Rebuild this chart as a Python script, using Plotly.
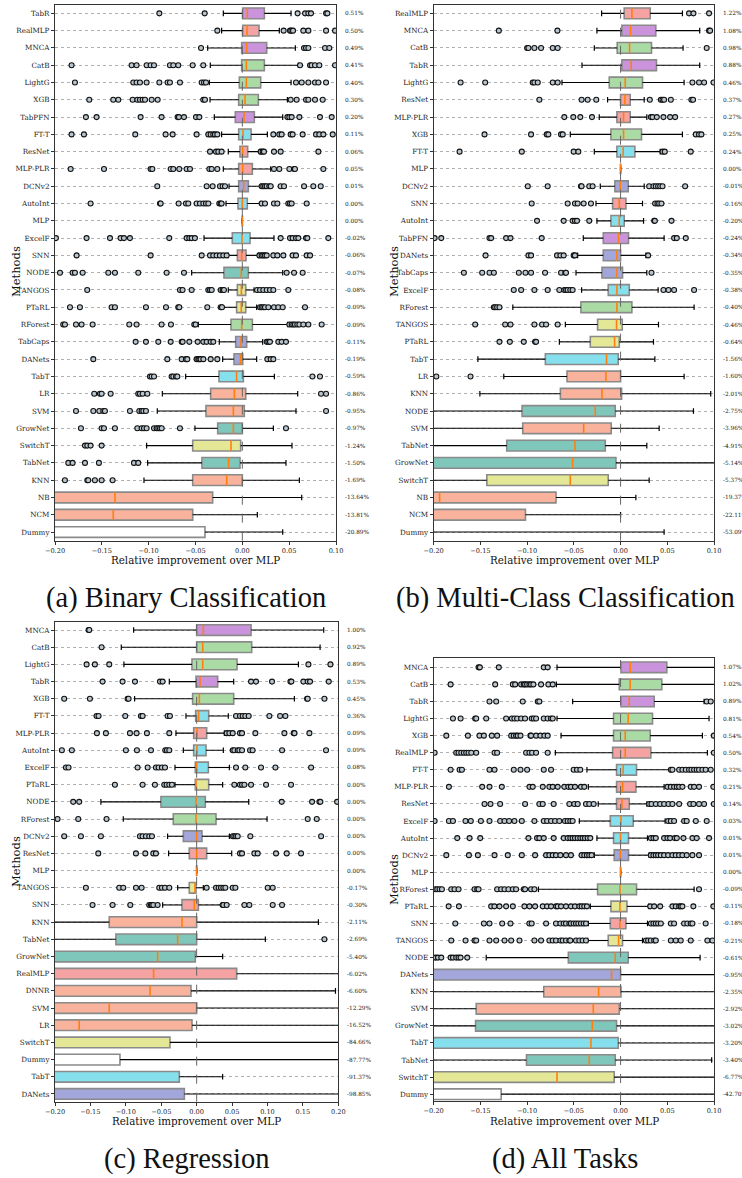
import plotly.graph_objects as go

# ---------------- Panel (a) Binary Classification ----------------
a_methods = ["TabR", "RealMLP", "MNCA", "CatB", "LightG", "XGB", "TabPFN", "FT-T", "ResNet", "MLP-PLR",
             "DCNv2", "AutoInt", "MLP", "ExcelF", "SNN", "NODE", "TANGOS", "PTaRL", "RForest", "TabCaps",
             "DANets", "TabT", "LR", "SVM", "GrowNet", "SwitchT", "TabNet", "KNN", "NB", "NCM", "Dummy"]
a_q1 = [0.0004, 0.0004, -0.0007, -0.0007, -0.0032, -0.0039, -0.0075, -0.0039, -0.0025, -0.0039, -0.0039,
        -0.0046, 0.0, -0.0107, -0.0053, -0.0196, -0.0053, -0.0061, -0.0121, -0.0071, -0.0089, -0.0249,
        -0.0338, -0.0388, -0.0263, -0.0530, -0.0431, -0.0530, -0.25, -0.30, -0.50]
a_med = [0.0053, 0.0050, 0.0046, 0.0043, 0.0043, 0.0028, 0.0018, 0.0007, 0.0004, 0.0004, 0.0014, 0.0, 0.0,
         -0.0004, -0.0007, -0.0011, -0.0010, -0.0011, -0.0007, -0.0014, -0.0021, -0.0061, -0.0085, -0.0096,
         -0.0096, -0.0121, -0.0146, -0.0167, -0.1360, -0.1378, -0.30]
a_q3 = [0.0235, 0.0178, 0.0260, 0.0235, 0.0196, 0.0171, 0.0128, 0.0093, 0.0057, 0.0107, 0.0064, 0.0053, 0.0,
        0.0082, 0.0039, 0.0064, 0.0036, 0.0036, 0.0107, 0.0046, 0.0004, 0.0011, 0.0036, 0.0021, 0.0,
        -0.0018, -0.0025, 0.0, -0.0317, -0.0530, -0.0399]
a_lo = [-0.0203, -0.0221, -0.0370, -0.0342, -0.0352, -0.0345, -0.0299, -0.0221, -0.0150, -0.0203, -0.0142,
        -0.0174, 0.0, -0.0409, -0.0150, -0.0541, -0.0150, -0.0210, -0.0470, -0.0246, -0.0210, -0.0605,
        -0.0854, -0.0908, -0.0506, -0.1022, -0.1011, -0.1050, -0.40, -0.50, -1.0]
a_hi = [0.0520, 0.0395, 0.0566, 0.0598, 0.0520, 0.0481, 0.0431, 0.0267, 0.0189, 0.0303, 0.0196, 0.0196, 0.0,
        0.0338, 0.0171, 0.0431, 0.0125, 0.0153, 0.0484, 0.0217, 0.0153, 0.0342, 0.0591, 0.0573, 0.0331,
        0.0530, 0.0466, 0.0609, 0.0634, 0.0160, 0.0431]
a_pct = ["0.51%", "0.50%", "0.49%", "0.41%", "0.40%", "0.30%", "0.20%", "0.11%", "0.06%", "0.05%", "0.01%",
         "0.00%", "0.00%", "-0.02%", "-0.06%", "-0.07%", "-0.08%", "-0.09%", "-0.09%", "-0.11%", "-0.19%",
         "-0.59%", "-0.86%", "-0.95%", "-0.97%", "-1.24%", "-1.50%", "-1.69%", "-13.64%", "-13.81%", "-20.89%"]
a_out = {
    "TabR": [-0.0886, -0.0402, 0.0590, 0.0670, 0.0705, 0.0733, 0.0894, 0.0908],
    "RealMLP": [-0.0267, 0.0441, 0.0509, 0.0523, 0.0541, 0.0651, 0.0705, 0.0894, 0.0990],
    "MNCA": [-0.0441, 0.0659, 0.0680, 0.0705, 0.0883, 0.0929],
    "CatB": [-0.1823, -0.1182, -0.1129, -0.1022, -0.0979, -0.0943, -0.0773, -0.0737, -0.0684, -0.0530, -0.0417,
             0.0616, 0.0723, 0.0740, 0.0776, 0.0822, 0.0990],
    "LightG": [-0.1787, -0.1164, -0.1129, -0.1093, -0.1022, -0.0886, -0.0798, -0.0773, -0.0666, -0.0434, -0.0409,
               -0.0388, 0.0573, 0.0634, 0.0705, 0.0776, 0.0812, 0.0894],
    "XGB": [-0.1634, -0.1378, -0.1324, -0.1171, -0.1121, -0.1093, -0.1064, -0.1039, -0.0968, -0.0904, -0.0417,
            -0.0399, 0.0516, 0.0580, 0.0680, 0.0705, 0.0776, 0.0858],
    "TabPFN": [-0.1670, -0.1556, -0.1086, -0.0862, -0.0691, -0.0677, -0.0623, -0.0495, -0.0459, 0.0481, 0.0502,
               0.0527, 0.0609, 0.0829, 0.0954],
    "FT-T": [-0.1823, -0.1691, -0.1143, -0.0819, -0.0744, -0.0488, -0.0363, -0.0338, -0.0310, -0.0292, -0.0267,
             0.0331, 0.0395, 0.0420, 0.0516, 0.0537, 0.0644, 0.0787, 0.0822, 0.0865, 0.0965],
    "ResNet": [-0.0345, -0.0281, -0.0256, -0.0221, 0.0196, 0.0217, 0.0231, 0.0338, 0.0409, 0.0812],
    "MLP-PLR": [-0.1833, -0.1477, -0.0979, -0.0961, -0.0765, -0.0737, -0.0673, -0.0595, -0.0559, -0.0352, -0.0327,
                -0.0267, 0.0338, 0.0395, 0.0502, 0.0552, 0.0562, 0.0865],
    "DCNv2": [-0.0908, -0.0381, -0.0317, -0.0239, -0.0210, -0.0185, 0.0206, 0.0224, 0.0242, 0.0260, 0.0288,
              0.0303, 0.0409, 0.0445, 0.0659, 0.0758, 0.0837],
    "AutoInt": [-0.1620, -0.0879, -0.0872, -0.0680, -0.0602, -0.0577, -0.0488, -0.0452, -0.0416, -0.0388, -0.0363,
                -0.0246, -0.0231, -0.0221, 0.0206, 0.0242, 0.0338, 0.0374, 0.0491, 0.0509, 0.0527, 0.0687],
    "ExcelF": [-0.1990, -0.1663, -0.1413, -0.1300, -0.1264, -0.1200, -0.0780, -0.0595, -0.0566, -0.0541, -0.0506,
               0.0409, 0.0509, 0.0537, 0.0573, 0.0598, 0.0680, 0.0694, 0.0918],
    "SNN": [-0.1769, -0.0979, -0.0434, -0.0345, -0.0310, -0.0274, -0.0239, -0.0203, -0.0167, 0.0182, 0.0206,
            0.0224, 0.0242, 0.0260, 0.0331, 0.0374, 0.0438, 0.0537, 0.0573, 0.0687, 0.0723],
    "NODE": [-0.1947, -0.1812, -0.1787, -0.1705, -0.1431, -0.1360, -0.1111, -0.0808, -0.0623, 0.0473, 0.0552,
             0.0644],
    "TANGOS": [-0.1656, -0.0666, -0.0638, -0.0541, -0.0363, -0.0345, -0.0327, -0.0231, -0.0210, -0.0196, 0.0157,
               0.0189, 0.0224, 0.0260, 0.0295, 0.0331, 0.0491],
    "PTaRL": [-0.1840, -0.1734, -0.1396, -0.1360, -0.1029, -0.0815, -0.0684, -0.0673, -0.0374, -0.0231, -0.0217,
              0.0189, 0.0206, 0.0224, 0.0242, 0.0278, 0.0338, 0.0384, 0.0431, 0.0669],
    "RForest": [-0.1912, -0.1894, -0.1776, -0.1716, -0.1598, -0.1207, -0.1129, -0.0862, -0.0762, -0.0513, -0.0499,
                0.0502, 0.0527, 0.0545, 0.0562, 0.0587, 0.0609, 0.0651, 0.0705, 0.0847],
    "TabCaps": [-0.1139, -0.1029, -0.0897, -0.0765, -0.0648, -0.0637, -0.0566, -0.0477, -0.0416, -0.0381, -0.0338,
                -0.0310, 0.0260, 0.0278, 0.0295, 0.0384, 0.0420, 0.0466],
    "DANets": [-0.1591, -0.0801, -0.0648, -0.0602, -0.0588, -0.0488, -0.0470, -0.0459, -0.0445, -0.0416, -0.0338,
               -0.0267, 0.0267, 0.0303, 0.0331],
    "TabT": [-0.0986, -0.0968, -0.0943, -0.0755, -0.0737, -0.0708, -0.0694, 0.0748, 0.0829],
    "LR": [-0.1581, -0.1520, -0.1502, -0.1406, -0.1111, -0.1093, -0.1064, -0.1014, 0.0840, 0.0894],
    "SVM": [-0.1776, -0.1591, -0.1527, -0.1484, -0.1467, -0.1200, -0.1100, -0.1075, -0.1057, -0.1029, 0.0894],
    "GrowNet": [-0.1723, -0.1502, -0.1477, -0.1360, -0.1121, -0.1075, -0.1050, -0.1022, -0.0943, -0.0915, -0.0897,
                -0.0879, -0.0861, -0.0666, 0.0466],
    "SwitchT": [-0.1680, -0.1655, -0.1620, -0.1502],
    "TabNet": [-0.1858, -0.1812, -0.1680, -0.1531, -0.1157, -0.1111],
    "KNN": [-0.1894, -0.1655, -0.1645, -0.1574, -0.1502, -0.1385],
}

# ---------------- Panel (b) Multi-Class Classification ----------------
b_methods = ["RealMLP", "MNCA", "CatB", "TabR", "LightG", "ResNet", "MLP-PLR", "XGB", "FT-T", "MLP", "DCNv2",
             "SNN", "AutoInt", "TabPFN", "DANets", "TabCaps", "ExcelF", "RForest", "TANGOS", "PTaRL", "TabT",
             "LR", "KNN", "NODE", "SVM", "TabNet", "GrowNet", "SwitchT", "NB", "NCM", "Dummy"]
b_q1 = [0.0039, 0.0014, -0.0036, 0.0014, -0.0121, 0.0, -0.0039, -0.0103, -0.0039, 0.0, -0.0061, -0.0085,
        -0.0103, -0.0185, -0.0185, -0.0199, -0.0132, -0.0424, -0.0246, -0.0324, -0.0805, -0.0573, -0.0644,
        -0.1054, -0.1047, -0.1218, -0.25, -0.1431, -0.30, -0.40, -0.60]
b_med = [0.0121, 0.0107, 0.0096, 0.0114, 0.0050, 0.0046, 0.0032, 0.0032, 0.0028, 0.0, -0.0004, -0.0014,
         -0.0014, -0.0021, -0.0039, -0.0039, -0.0039, -0.0039, -0.0043, -0.0064, -0.0150, -0.0157, -0.0199,
         -0.0271, -0.0395, -0.0488, -0.0513, -0.0538, -0.1937, -0.25, -0.50]
b_q3 = [0.0317, 0.0377, 0.0331, 0.0384, 0.0235, 0.0103, 0.0103, 0.0224, 0.0153, 0.0, 0.0082, 0.0057, 0.0039,
        0.0085, 0.0, 0.0021, 0.0093, 0.0121, 0.0018, -0.0014, -0.0025, 0.0, 0.0011, -0.0057, -0.0100, -0.0164,
        -0.0050, -0.0132, -0.0691, -0.1018, -0.30]
b_lo = [-0.0203, -0.0253, -0.0281, -0.0413, -0.0627, -0.0139, -0.0228, -0.0538, -0.0281, 0.0, -0.0217, -0.0263,
        -0.0253, -0.0399, -0.0459, -0.0477, -0.0417, -0.1153, -0.0591, -0.0655, -0.1527, -0.1250, -0.1506,
        -0.25, -0.25, -0.30, -0.50, -0.25, -0.50, -0.60, -1.0]
b_hi = [0.0662, 0.0847, 0.0669, 0.0847, 0.0680, 0.0253, 0.0281, 0.0662, 0.0424, 0.0, 0.0253, 0.0235, 0.0246,
        0.0466, 0.0271, 0.0281, 0.0402, 0.0787, 0.0406, 0.0352, 0.0367, 0.0680, 0.0965, 0.0780, 0.0413, 0.0281,
        0.15, 0.0306, 0.0164, 0.0, 0.0466]
b_pct = ["1.22%", "1.08%", "0.98%", "0.88%", "0.46%", "0.37%", "0.27%", "0.25%", "0.24%", "0.00%", "-0.01%",
         "-0.16%", "-0.20%", "-0.24%", "-0.34%", "-0.35%", "-0.38%", "-0.40%", "-0.46%", "-0.64%", "-1.56%",
         "-1.60%", "-2.01%", "-2.75%", "-3.96%", "-4.91%", "-5.14%", "-5.37%", "-19.37%", "-22.11%", "-53.09%"]
b_out = {
    "RealMLP": [0.0733, 0.0780, 0.0947],
    "MNCA": [-0.1303, -0.0676, 0.0947, 0.0958],
    "CatB": [-0.1000, -0.0986, -0.0922, -0.0851, -0.0726, -0.0673, 0.0922],
    "LightG": [-0.1712, -0.1449, -0.0940, -0.0922, -0.0886, -0.0726, -0.0673, 0.0769, 0.0840, 0.0894, 0.0995],
    "ResNet": [-0.0869, -0.0417, -0.0352, -0.0260, 0.0313, 0.0431, 0.0449, 0.0466, 0.0538, 0.0758, 0.0776],
    "MLP-PLR": [-0.0602, -0.0506, -0.0431, -0.0306, 0.0324, 0.0342, 0.0388, 0.0459, 0.0530, 0.0584],
    "XGB": [-0.1456, -0.0958, -0.0790, -0.0773, -0.0637, -0.0619, 0.0805, 0.0840, 0.0865],
    "FT-T": [-0.1723, -0.1057, -0.0502, -0.0452, 0.0449, 0.0473, 0.0751],
    "DCNv2": [-0.0993, -0.0780, -0.0424, -0.0417, -0.0335, -0.0299, 0.0306, 0.0352, 0.0377, 0.0402, 0.0424,
              0.0449, 0.0691],
    "SNN": [-0.0951, -0.0566, -0.0488, -0.0459, -0.0395, -0.0317, 0.0370, 0.0395, 0.0413, 0.0438],
    "AutoInt": [-0.0894, -0.0609, -0.0513, -0.0488, -0.0466, -0.0335, 0.0360, 0.0367, 0.0545],
    "TabPFN": [-0.1990, -0.1919, -0.1403, -0.1385, -0.1225, -0.1178, -0.0844, 0.0573, 0.0602, 0.0698],
    "DANets": [-0.1445, -0.0986, -0.0958, -0.0680, -0.0644, -0.0609, -0.0502, -0.0488, 0.0295],
    "TabCaps": [-0.1677, -0.1481, -0.1403, -0.1356, -0.1089, -0.1018, -0.0958, -0.0808, -0.0637, -0.0591, -0.0584,
                0.0331],
    "ExcelF": [-0.1143, -0.1064, -0.0922, -0.0780, -0.0655, -0.0602, -0.0584, -0.0566, -0.0538, -0.0513, 0.0459,
               0.0513, 0.0573, 0.0787],
    "RForest": [-0.1356, -0.1342, -0.1321, -0.1296],
    "TANGOS": [-0.1556, -0.1235, -0.1178, -0.0922, -0.0840, -0.0797, -0.0673],
    "PTaRL": [-0.1296, -0.1185, -0.1036, -0.0915, -0.0904],
    "LR": [-0.1972, -0.1606],
}

# ---------------- Panel (c) Regression ----------------
c_methods = ["MNCA", "CatB", "LightG", "TabR", "XGB", "FT-T", "MLP-PLR", "AutoInt", "ExcelF", "PTaRL", "NODE",
             "RForest", "DCNv2", "ResNet", "MLP", "TANGOS", "SNN", "KNN", "TabNet", "GrowNet", "RealMLP", "DNNR",
             "SVM", "LR", "SwitchT", "Dummy", "TabT", "DANets"]
c_q1 = [0.0, 0.0, -0.0066, -0.0009, -0.0057, -0.0014, -0.0042, -0.0042, -0.0019, -0.0019, -0.0504, -0.0330,
        -0.0188, -0.0104, 0.0, -0.0104, -0.0207, -0.1234, -0.1140, -0.25, -0.30, -0.30, -0.30, -0.30, -0.60,
        -0.60, -0.60, -0.60]
c_med = [0.0094, 0.0085, 0.0085, 0.0047, 0.0038, 0.0028, 0.0005, 0.0005, 0.0, -0.0009, -0.0009, -0.0009, 0.0,
         0.0, 0.0, -0.0024, -0.0033, -0.0207, -0.0268, -0.0551, -0.0608, -0.0659, -0.1234, -0.1658, -0.30, -0.40,
         -0.40, -0.40]
c_q3 = [0.0768, 0.0777, 0.0570, 0.0297, 0.0523, 0.0170, 0.0141, 0.0132, 0.0165, 0.0170, 0.0122, 0.0273, 0.0075,
        0.0141, 0.0, -0.0009, 0.0024, 0.0, 0.0, -0.0019, 0.0565, -0.0080, 0.0, -0.0066, -0.0377, -0.1083,
        -0.0245, -0.0174]
c_lo = [-0.0890, -0.1064, -0.1027, -0.0386, -0.0876, -0.0151, -0.0292, -0.0188, -0.0306, -0.0306, -0.1352,
        -0.1036, -0.0410, -0.0396, 0.0, -0.0268, -0.0480, -0.25, -0.25, -0.50, -0.60, -0.60, -0.60, -0.60,
        -0.80, -0.80, -0.80, -0.80]
c_hi = [0.1794, 0.1743, 0.1437, 0.0523, 0.1380, 0.0447, 0.0391, 0.0377, 0.0462, 0.0367, 0.0735, 0.0994, 0.0462,
        0.0495, 0.0, 0.0094, 0.0358, 0.1719, 0.0970, 0.0367, 0.30, 0.1960, 0.30, 0.30, 0.30, 0.30, 0.0367, 0.30]
c_pct = ["1.00%", "0.92%", "0.89%", "0.53%", "0.45%", "0.36%", "0.09%", "0.09%", "0.08%", "0.00%", "0.00%",
         "0.00%", "0.00%", "0.00%", "0.00%", "-0.17%", "-0.30%", "-2.11%", "-2.69%", "-5.40%", "-6.02%",
         "-6.60%", "-12.29%", "-16.52%", "-84.66%", "-87.77%", "-91.37%", "-98.85%"]
c_out = {
    "MNCA": [-0.1526, -0.1516],
    "CatB": [-0.1342],
    "LightG": [-0.1554, -0.1437, -0.1234, 0.1578, 0.1889],
    "TabR": [-0.1328, -0.1046, -0.0871, -0.0518, -0.0480, 0.0768, 0.0838, 0.1064, 0.1324, 0.1338, 0.1507, 0.1568,
             0.1601, 0.1865],
    "XGB": [-0.1870, -0.1507, -0.0975, -0.0961, 0.1559, 0.1568, 0.1804],
    "FT-T": [-0.1413, -0.1385, -0.1008, -0.0787, -0.0763, -0.0410, -0.0377, 0.0556, 0.0612, 0.0650, 0.0687,
             0.0735, 0.1027, 0.1178, 0.1253],
    "MLP-PLR": [-0.1408, -0.1281, -0.0942, -0.0848, -0.0702, -0.0386, 0.0424, 0.0462, 0.0509, 0.0612, 0.0641,
                0.0829, 0.1239, 0.1371, 0.1381, 0.1592],
    "AutoInt": [-0.1903, -0.1762, -0.0999, -0.0843, -0.0645, -0.0443, -0.0419, -0.0386, 0.0509, 0.0532, 0.0580,
                0.0603, 0.0641, 0.0754, 0.0791, 0.1206, 0.1827],
    "ExcelF": [-0.1846, -0.1809, -0.0834, -0.0692, -0.0575, -0.0537, -0.0490, -0.0447, 0.0556, 0.0687, 0.0909,
               0.1112, 0.1616],
    "PTaRL": [-0.1154, -0.0763, -0.0589, -0.0457, -0.0424, -0.0386, -0.0349, 0.0532, 0.0612, 0.0641, 0.0674,
              0.0768, 0.0980, 0.1333],
    "NODE": [-0.1743, -0.1658, 0.1201, 0.1630, 0.1733, 0.1747, 0.1983],
    "RForest": [-0.1964, -0.1672, -0.1272, 0.1568, 0.1696],
    "DCNv2": [-0.1870, -0.1634, -0.1352, -0.0801, -0.0763, -0.0716, -0.0669, -0.0631, 0.0509, 0.0532, 0.0556,
              0.0580, 0.0758, 0.1757],
    "ResNet": [-0.1389, -0.0857, -0.0725, -0.0612, -0.0575, 0.0612, 0.0641, 0.0815, 0.0862, 0.1121, 0.1272,
               0.1474],
    "TANGOS": [-0.1564, -0.1093, -0.1036, -0.0857, -0.0777, -0.0528, -0.0490, -0.0447, -0.0386, 0.0141, 0.0273,
               0.0311, 0.0344, 0.0377, 0.0405, 0.0509, 0.0547, 0.1003, 0.1074],
    "SNN": [-0.1470, -0.1187, -0.0937, -0.0669, -0.0645, -0.0631, -0.0612, -0.0551, 0.0367, 0.0377, 0.0424,
            0.0674, 0.0744, 0.1074, 0.1206],
    "TabNet": [0.1804],
}

# ---------------- Panel (d) All Tasks ----------------
d_methods = ["MNCA", "CatB", "TabR", "LightG", "XGB", "RealMLP", "FT-T", "MLP-PLR", "ResNet", "ExcelF", "AutoInt",
             "DCNv2", "MLP", "RForest", "PTaRL", "SNN", "TANGOS", "NODE", "DANets", "KNN", "SVM", "GrowNet",
             "TabT", "TabNet", "SwitchT", "Dummy"]
d_q1 = [0.0004, -0.0014, 0.0004, -0.0075, -0.0075, -0.0085, -0.0043, -0.0043, -0.0043, -0.0110, -0.0075,
        -0.0068, 0.0, -0.0246, -0.0103, -0.0110, -0.0132, -0.0559, -0.25, -0.0822, -0.1545, -0.1552, -0.25,
        -0.1007, -0.25, -0.60]
d_med = [0.0103, 0.0103, 0.0093, 0.0082, 0.0050, 0.0050, 0.0028, 0.0021, 0.0014, 0.0004, 0.0, -0.0004, 0.0,
         -0.0007, -0.0007, -0.0007, -0.0021, -0.0057, -0.0096, -0.0235, -0.0292, -0.0303, -0.0317, -0.0335,
         -0.0680, -0.40]
d_q3 = [0.0495, 0.0441, 0.0360, 0.0342, 0.0317, 0.0324, 0.0171, 0.0164, 0.0093, 0.0135, 0.0085, 0.0085, 0.0,
        0.0171, 0.0068, 0.0057, 0.0021, 0.0082, 0.0, 0.0004, -0.0014, -0.0043, -0.0025, -0.0057, -0.0068,
        -0.1278]
d_lo = [-0.0680, -0.0687, -0.0513, -0.0680, -0.0637, -0.0698, -0.0360, -0.0345, -0.0239, -0.0441, -0.0253,
        -0.0281, 0.0, -0.0879, -0.0324, -0.0345, -0.0352, -0.1438, -0.50, -0.30, -0.35, -0.35, -0.50, -0.30,
        -0.50, -0.80]
d_hi = [0.12, 0.12, 0.0894, 0.0947, 0.0876, 0.0929, 0.0530, 0.0466, 0.0281, 0.0477, 0.0288, 0.0306, 0.0, 0.0787,
        0.0299, 0.0288, 0.0235, 0.0851, 0.15, 0.15, 0.15, 0.15, 0.15, 0.0975, 0.15, 0.15]
d_pct = ["1.07%", "1.02%", "0.89%", "0.81%", "0.54%", "0.50%", "0.32%", "0.21%", "0.14%", "0.03%", "0.01%",
         "0.01%", "0.00%", "-0.09%", "-0.11%", "-0.18%", "-0.21%", "-0.61%", "-0.95%", "-2.35%", "-2.92%",
         "-3.02%", "-3.20%", "-3.40%", "-6.77%", "-42.70%"]
d_out = {
    "MNCA": [-0.1520, -0.1506, -0.1303, -0.0822, -0.0780],
    "CatB": [-0.1819, -0.1342, -0.1153, -0.1128, -0.1064, -0.1036, -0.1022, -0.1000, -0.0975, -0.0958, -0.0933,
             -0.0851, -0.0773, -0.0726],
    "TabR": [-0.1403, -0.1331, -0.1047, -0.0886, -0.0869, 0.0922, 0.0965],
    "LightG": [-0.1794, -0.1712, -0.1556, -0.1545, -0.1438, -0.1225, -0.1164, -0.1136, -0.1107, -0.1064, -0.1022,
               -0.0951, -0.0929, -0.0904, -0.0822, -0.0780, -0.0744, -0.0726],
    "XGB": [-0.1865, -0.1634, -0.1510, -0.1463, -0.1378, -0.1321, -0.1171, -0.1143, -0.1118, -0.1100, -0.1071,
            -0.0965, -0.0958, -0.0904, -0.0858, -0.0815, -0.0780, 0.0998],
    "RealMLP": [-0.1990, -0.1759, -0.1734, -0.1705, -0.1677, -0.1652, -0.1627, -0.1598, -0.1545, -0.1349, -0.1321,
                -0.1011, -0.0975, -0.0947, -0.0904, -0.0780, 0.0998],
    "FT-T": [-0.1819, -0.1723, -0.1698, -0.1403, -0.1349, -0.1143, -0.1071, -0.1000, -0.0822, -0.0744, -0.0502,
             -0.0466, -0.0431, 0.0538, 0.0555, 0.0627, 0.0662, 0.0698, 0.0733, 0.0758, 0.0787, 0.0815, 0.0840,
             0.0876, 0.0911, 0.0965],
    "MLP-PLR": [-0.1837, -0.1481, -0.1403, -0.1271, -0.0975, -0.0940, -0.0833, -0.0762, -0.0726, -0.0673, -0.0602,
                -0.0559, -0.0531, -0.0488, -0.0424, -0.0388, 0.0502, 0.0538, 0.0573, 0.0602, 0.0627, 0.0662,
                0.0751, 0.0787, 0.0840, 0.0993],
    "ResNet": [-0.1456, -0.1392, -0.1289, -0.1022, -0.0869, -0.0833, -0.0716, -0.0548, -0.0495, -0.0459, -0.0370,
               -0.0335, -0.0288, 0.0306, 0.0331, 0.0377, 0.0424, 0.0466, 0.0513, 0.0555, 0.0627, 0.0744, 0.0780,
               0.0840, 0.0894, 0.0998],
    "ExcelF": [-0.1990, -0.1837, -0.1794, -0.1660, -0.1603, -0.1495, -0.1403, -0.1289, -0.1242, -0.1193, -0.1136,
               -0.1057, -0.0922, -0.0822, -0.0786, -0.0744, -0.0701, -0.0655, -0.0595, -0.0566, -0.0538, -0.0513,
               0.0509, 0.0538, 0.0573, 0.0680, 0.0708, 0.0805, 0.0922],
    "AutoInt": [-0.1748, -0.1616, -0.1502, -0.0986, -0.0894, -0.0869, -0.0822, -0.0716, -0.0609, -0.0566, -0.0538,
                -0.0513, -0.0488, -0.0459, -0.0431, -0.0406, -0.0381, -0.0352, -0.0324, 0.0324, 0.0352, 0.0377,
                0.0466, 0.0502, 0.0530, 0.0580, 0.0602, 0.0673, 0.0769, 0.0815, 0.0947],
    "DCNv2": [-0.1865, -0.1623, -0.1527, -0.1349, -0.1207, -0.1057, -0.0915, -0.0797, -0.0762, -0.0726, -0.0691,
              -0.0644, -0.0584, -0.0531, -0.0417, -0.0388, -0.0360, -0.0335, -0.0310, 0.0324, 0.0352, 0.0377,
              0.0402, 0.0431, 0.0466, 0.0509, 0.0555, 0.0591, 0.0627, 0.0662, 0.0708, 0.0769, 0.0840],
    "RForest": [-0.1983, -0.1962, -0.1937, -0.1912, -0.1812, -0.1777, -0.1734, -0.1563, -0.1534, -0.1520, -0.1321,
                -0.1278, -0.1242, -0.1200, -0.1153, -0.1118, -0.1036, -0.1022, -0.0958, -0.0922, 0.0840],
    "PTaRL": [-0.1840, -0.1730, -0.1385, -0.1350, -0.1296, -0.1225, -0.1153, -0.1029, -0.0975, -0.0915, -0.0833,
              -0.0787, -0.0744, -0.0691, -0.0673, -0.0637, -0.0584, -0.0531, -0.0488, -0.0441, -0.0416, -0.0388,
              -0.0360, 0.0317, 0.0360, 0.0424, 0.0555, 0.0591, 0.0627, 0.0644, 0.0662, 0.0779, 0.0993],
    "SNN": [-0.1769, -0.1463, -0.1403, -0.1267, -0.1178, -0.0976, -0.0951, -0.0797, -0.0691, -0.0644, -0.0609,
            -0.0584, -0.0548, -0.0531, -0.0502, -0.0477, -0.0452, -0.0424, -0.0395, -0.0370, 0.0324, 0.0352,
            0.0377, 0.0402, 0.0431, 0.0538, 0.0573, 0.0680, 0.0715, 0.0751, 0.0769, 0.0911],
    "TANGOS": [-0.1812, -0.1659, -0.1563, -0.1545, -0.1403, -0.1331, -0.1242, -0.1171, -0.1082, -0.0922, -0.0851,
               -0.0762, -0.0726, -0.0691, -0.0644, -0.0619, -0.0584, -0.0548, -0.0538, -0.0477, -0.0441, -0.0406,
               -0.0370, 0.0271, 0.0295, 0.0324, 0.0360, 0.0377, 0.0538, 0.0591, 0.0644, 0.0751, 0.0929, 0.0983],
    "NODE": [-0.1979, -0.1954, -0.1919, -0.1819, -0.1794, -0.1759, -0.1734, -0.1712, -0.1641],
}

# ---------------- styling ----------------
PURPLE, RED, GREEN, CYAN = "#cb93dc", "#f4a2a2", "#abdba5", "#86dfec"
BLUE, TEAL, YELLOW, SALMON = "#a3a6db", "#80c7bb", "#e3e796", "#f9b29b"
COLORS = {
    "TabR": PURPLE, "MNCA": PURPLE, "TabPFN": PURPLE,
    "RealMLP": RED, "ResNet": RED, "MLP-PLR": RED, "SNN": RED,
    "CatB": GREEN, "LightG": GREEN, "XGB": GREEN, "RForest": GREEN,
    "FT-T": CYAN, "AutoInt": CYAN, "ExcelF": CYAN, "TabT": CYAN,
    "DCNv2": BLUE, "TabCaps": BLUE, "DANets": BLUE,
    "NODE": TEAL, "GrowNet": TEAL, "TabNet": TEAL,
    "TANGOS": YELLOW, "PTaRL": YELLOW, "SwitchT": YELLOW,
    "LR": SALMON, "SVM": SALMON, "KNN": SALMON, "NB": SALMON, "NCM": SALMON, "DNNR": SALMON,
    "Dummy": "#ffffff", "MLP": "#ffffff",
}
W, H = 742, 1178
SERIF = "DejaVu Serif"

fig = go.Figure()
annotations = []
shapes = []


def px_x(p):
    return p / W


def px_y(p):
    return 1 - p / H


def add_panel(k, methods, q1, med, q3, lo, hi, outliers, pct, xrange, xticks, xdom, ydom, yrange):
    xa = "x" if k == 1 else f"x{k}"
    ya = "y" if k == 1 else f"y{k}"
    common = dict(xaxis=xa, yaxis=ya, showlegend=False, hoverinfo="skip")
    fig.add_trace(go.Bar(
        y=methods, x=[b - a for a, b in zip(q1, q3)], base=q1, orientation="h", width=0.62,
        marker=dict(color=[COLORS[m] for m in methods], line=dict(color="#8a8a8a", width=1.6)), **common))
    wx, wy = [], []
    for m, a, b, l, h in zip(methods, q1, q3, lo, hi):
        wx += [l, a, None, b, h, None]
        wy += [m, m, None, m, m, None]
    fig.add_trace(go.Scatter(x=wx, y=wy, mode="lines", line=dict(color="black", width=1.1), **common))
    fig.add_trace(go.Scatter(x=list(lo) + list(hi), y=list(methods) + list(methods), mode="markers",
                             marker=dict(symbol="line-ns", size=4, line=dict(color="black", width=1.2)), **common))
    ox, oy = [], []
    for m in methods:
        for v in outliers.get(m, []):
            ox.append(v)
            oy.append(m)
    fig.add_trace(go.Scatter(x=ox, y=oy, mode="markers",
                             marker=dict(symbol="circle", size=5, color="#b9c6cf",
                                         line=dict(color="#111111", width=1.1)), **common))
    fig.add_trace(go.Scatter(x=med, y=methods, mode="markers",
                             marker=dict(symbol="line-ns", size=7.6, line=dict(color="#ff7f0e", width=1.6)),
                             **common))
    axis_style = dict(showline=True, mirror=True, linecolor="#333333", linewidth=1.2, ticks="outside",
                      ticklen=3, tickcolor="#333333", zeroline=False, automargin=False)
    fig.update_layout(**{
        ("xaxis" if k == 1 else f"xaxis{k}"): dict(
            domain=xdom, range=xrange, tickvals=xticks, tickformat=".2f", anchor=ya, showgrid=False,
            tickfont=dict(size=6.6, family=SERIF, color="#222"), **axis_style),
        ("yaxis" if k == 1 else f"yaxis{k}"): dict(
            domain=ydom, type="category", categoryorder="array", categoryarray=methods, range=yrange,
            anchor=xa, showgrid=True, gridcolor="#b0b0b0", griddash="dot", gridwidth=0.8,
            tickfont=dict(size=7.2, family=SERIF, color="#222"), **axis_style),
    })
    shapes.append(dict(type="line", xref=xa, yref=f"{ya} domain", x0=0, x1=0, y0=0, y1=1,
                       line=dict(color="#666666", width=1, dash="dash"), layer="above"))
    for m, p in zip(methods, pct):
        annotations.append(dict(xref=f"{xa} domain", yref=ya, x=1.025, y=m, text=p, showarrow=False,
                                xanchor="left", yanchor="middle", font=dict(size=5.8, family=SERIF, color="#222")))


add_panel(1, a_methods, a_q1, a_med, a_q3, a_lo, a_hi, a_out, a_pct, [-0.2, 0.1],
          [-0.2, -0.15, -0.1, -0.05, 0.0, 0.05, 0.1], [px_x(55), px_x(336)], [px_y(540.7), px_y(4.7)],
          [30.5, -0.5])
add_panel(2, b_methods, b_q1, b_med, b_q3, b_lo, b_hi, b_out, b_pct, [-0.2, 0.1],
          [-0.2, -0.15, -0.1, -0.05, 0.0, 0.05, 0.1], [px_x(433.7), px_x(714)], [px_y(540.7), px_y(4.7)],
          [30.5, -0.5])
add_panel(3, c_methods, c_q1, c_med, c_q3, c_lo, c_hi, c_out, c_pct, [-0.2, 0.2],
          [-0.2, -0.15, -0.1, -0.05, 0.0, 0.05, 0.1, 0.15, 0.2], [px_x(55), px_x(338.3)],
          [px_y(1101.7), px_y(622.3)], [27.45, -0.45])
add_panel(4, d_methods, d_q1, d_med, d_q3, d_lo, d_hi, d_out, d_pct, [-0.2, 0.1],
          [-0.2, -0.15, -0.1, -0.05, 0.0, 0.05, 0.1], [px_x(433.7), px_x(714)], [px_y(1101), px_y(658.3)],
          [25.4, -0.53])

# axis titles and captions
for cx, cy in [(195.5, 559.5), (574, 559.5), (196.7, 1120.5), (574, 1120.5)]:
    annotations.append(dict(xref="paper", yref="paper", x=px_x(cx), y=px_y(cy), text="Relative improvement over MLP",
                            showarrow=False, xanchor="center", yanchor="middle",
                            font=dict(size=10.3, family=SERIF, color="#111")))
for cx, cy in [(16, 272), (394, 272), (16, 862), (394, 880)]:
    annotations.append(dict(xref="paper", yref="paper", x=px_x(cx), y=px_y(cy), text="Methods", textangle=-90,
                            showarrow=False, xanchor="center", yanchor="middle",
                            font=dict(size=11.5, family=SERIF, color="#111")))
for cx, cy, t in [(186, 598, "(a) Binary Classification"), (565, 598, "(b) Multi-Class Classification"),
                  (186, 1159, "(c) Regression"), (565, 1159, "(d) All Tasks")]:
    annotations.append(dict(xref="paper", yref="paper", x=px_x(cx), y=px_y(cy), text=t, showarrow=False,
                            xanchor="center", yanchor="middle",
                            font=dict(size=28.5, family="Liberation Serif", color="#111")))

fig.update_layout(width=W, height=H, margin=dict(l=0, r=0, t=0, b=0, autoexpand=False), paper_bgcolor="white",
                  plot_bgcolor="white", barmode="overlay", annotations=annotations, shapes=shapes,
                  font=dict(family=SERIF), hovermode=False)

fig.write_html("out.html", config={"displayModeBar": False},
               post_script="document.body.style.margin='0px';document.body.style.padding='0px';")
